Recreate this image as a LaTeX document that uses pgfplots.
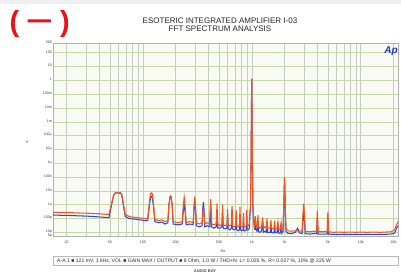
\documentclass[border=0pt]{standalone}
\usepackage{pgfplots}
\pgfplotsset{compat=1.18}
\usepackage{fontspec}
\setmainfont{Liberation Sans}
\definecolor{tr1}{RGB}{242,86,30}
\definecolor{tr2}{RGB}{48,72,210}
\definecolor{hgrid}{RGB}{196,218,165}
\definecolor{vgrid}{RGB}{200,203,196}
\definecolor{plotbg}{RGB}{248,250,243}
\definecolor{aplogo}{RGB}{30,60,190}
\definecolor{redsign}{RGB}{232,20,28}
\begin{document}
\begin{tikzpicture}[x=1pt,y=1pt]
\useasboundingbox (0,0) rectangle (401,272);
\fill[white] (0,0) rectangle (401,272);
\fill[gray!12] (0,268) rectangle (401,272);
\begin{axis}[
  at={(53pt,35.5pt)}, anchor=south west,
  scale only axis, width=345pt, height=193.5pt,
  xmode=log, ymode=log,
  xmin=15, xmax=22000, ymin=5e-12, ymax=500,
  axis background/.style={fill=plotbg},
  axis line style={gray!60, line width=0.4pt},
  xtick={20,50,100,200,500,1000,2000,5000,10000,20000},
  xticklabels={20,50,100,200,500,1k,2k,5k,10k,20k},
  minor xtick={30,40,60,70,80,90,300,400,600,700,800,900,3000,4000,6000,7000,8000,9000},
  ytick={5e-12,1e-11,1e-10,1e-9,1e-8,1e-7,1e-6,1e-5,1e-4,1e-3,1e-2,1e-1,1,10,100,500},
  yticklabels={5p,10p,100p,1n,10n,100n,1µ,10µ,100µ,1m,10m,100m,1,10,100,500},
  xmajorgrids, xminorgrids, ymajorgrids,
  x grid style={vgrid, line width=0.4pt},
  minor x grid style={vgrid, line width=0.4pt},
  y grid style={hgrid, line width=0.5pt},
  major tick length=0pt, minor tick length=0pt,
  tick label style={font=\fontsize{3.6}{3.8}\selectfont, text=black!75, inner sep=1pt},
  xticklabel style={yshift=-3pt},
  yticklabel style={yshift=0.8pt},
  clip=true,
]
\addplot[tr2, line width=1.05pt] coordinates {
(15,1.8e-10)(18,1.7e-10)(22,1.65e-10)(26,1.55e-10)(30,1.5e-10)(35,1.4e-10)(40,1.3e-10)(45,1.2e-10)(49,1.15e-10)
(52,1.2e-9)(54,4.5e-9)(56,7e-9)(58,7.5e-9)(60,6.5e-9)(62,7.2e-9)(64,5.5e-9)(66,1.2e-9)(69,1.4e-10)
(75,1e-10)(85,9e-11)(95,8e-11)(105,7e-11)(111,7e-11)
(115,1e-9)(118,3.5e-9)(120,4e-9)(122,3.5e-9)(125,1e-9)(129,6e-11)
(140,5e-11)(150,5.5e-11)(160,4e-11)(170,5e-11)
(174,1e-9)(178,3.8e-9)(180,4.2e-9)(182,3.8e-9)(186,1e-9)(190,4e-11)
(210,3.5e-11)(230,4e-11)(235,3e-10)(240,1e-9)(245,3e-10)(250,3.5e-11)
(270,4e-11)(290,3.5e-11)(295,4e-10)(300,1.5e-9)(305,4e-10)(310,3e-11)
(330,2.5e-11)(350,3e-11)(355,5e-10)(360,1.5e-9)(365,5e-10)(370,2.5e-11)
(390,3e-11)(412,2.5e-11)(420,5e-10)(428,2.5e-11)
(450,2e-11)(472,2.5e-11)(480,3e-10)(488,2e-11)
(510,2e-11)(532,2.5e-11)(540,3e-10)(548,2e-11)
(570,1.8e-11)(592,2e-11)(600,2e-10)(608,1.8e-11)
(630,1.5e-11)(652,2e-11)(660,5e-10)(668,1.8e-11)
(690,1.5e-11)(712,1.8e-11)(720,1.5e-10)(728,1.5e-11)
(750,1.3e-11)(772,1.5e-11)(780,2e-10)(788,1.5e-11)
(810,1.3e-11)(832,1.5e-11)(840,1.5e-10)(848,1.3e-11)
(870,1.3e-11)(892,1.5e-11)(900,1.5e-10)(908,1.5e-11)
(930,1.5e-11)(950,2e-11)(960,1e-10)(975,8e-10)(985,9e-7)(994,9e-3)(1000,1.2)(1006,9e-3)(1015,9e-7)(1025,8e-10)(1040,8e-11)
(1060,1.5e-11)(1080,8e-11)(1095,1.5e-11)(1120,1.2e-11)(1140,6e-11)(1155,1.2e-11)
(1190,1e-11)(1230,1.2e-11)(1260,6e-11)(1280,1e-11)(1320,1.2e-11)(1360,1e-11)(1380,5e-11)(1400,1e-11)
(1450,1e-11)(1480,1e-11)(1500,4e-11)(1520,1e-11)(1570,9e-12)(1600,1e-11)(1620,4e-11)(1640,9e-12)
(1700,9e-12)(1740,3e-11)(1760,9e-12)(1820,8.5e-12)(1860,3e-11)(1890,8.5e-12)
(1940,1.2e-11)(1970,8e-10)(1990,2.5e-8)(2000,8e-8)(2010,2.5e-8)(2030,8e-10)(2060,1.2e-11)
(2150,8.5e-12)(2300,8e-12)(2500,1e-11)(2640,2e-11)(2750,9e-12)(2900,8e-12)
(2960,1e-10)(3000,4e-10)(3040,1e-10)(3100,8e-12)(3400,7.5e-12)(3700,8e-12)
(3940,8e-12)(3970,3e-11)(4000,1e-10)(4030,3e-11)(4070,7.5e-12)(4500,7.5e-12)
(4930,7.5e-12)(4965,3e-11)(5000,8e-11)(5035,3e-11)(5080,7.5e-12)
(5600,7e-12)(6300,7.2e-12)(7000,7e-12)(8000,7.2e-12)(9000,7e-12)(10000,7.2e-12)
(11500,7e-12)(13000,7.2e-12)(15000,7e-12)(17000,7.2e-12)(19000,7.5e-12)(20500,9e-12)(21300,2e-11)(22000,3e-11)
};
\addplot[tr1, line width=1.05pt] coordinates {
(15,2.8e-10)(18,2.7e-10)(22,2.65e-10)(26,2.5e-10)(30,2.45e-10)(35,2.3e-10)(40,2.2e-10)(45,2.05e-10)(49,2.0e-10)
(52,1.5e-9)(54,5e-9)(56,7.5e-9)(58,7.8e-9)(60,6.8e-9)(62,7.6e-9)(64,6e-9)(66,1.5e-9)(69,2e-10)
(75,1.4e-10)(85,1.2e-10)(95,1.1e-10)(105,1e-10)(111,1e-10)
(115,1.5e-9)(118,6.5e-9)(120,7.2e-9)(122,6.5e-9)(125,1.5e-9)(129,9e-11)
(140,7e-11)(150,8e-11)(160,6e-11)(170,7e-11)
(174,1e-9)(178,3.8e-9)(180,4e-9)(182,3.8e-9)(186,1e-9)(190,6e-11)
(210,5e-11)(230,6e-11)(235,8e-10)(240,3.5e-9)(245,8e-10)(250,5e-11)
(270,6e-11)(290,5e-11)(295,8e-10)(300,3.8e-9)(305,8e-10)(310,5e-11)
(330,4e-11)(350,5e-11)(355,2e-10)(360,6e-10)(365,2e-10)(370,4e-11)
(390,5e-11)(410,4e-11)(415,5e-10)(420,2.5e-9)(425,5e-10)(430,4e-11)
(450,3.5e-11)(472,4e-11)(480,1.2e-9)(488,4e-11)
(510,3e-11)(532,4e-11)(540,1e-9)(548,3.5e-11)
(570,3e-11)(592,3.5e-11)(600,5e-10)(608,3e-11)
(630,3e-11)(652,3.5e-11)(660,8e-10)(668,3e-11)
(690,2.5e-11)(712,3e-11)(720,4e-10)(728,3e-11)
(750,2.5e-11)(772,3e-11)(780,7e-10)(788,3e-11)
(810,2.5e-11)(832,3e-11)(840,2.5e-10)(848,2.5e-11)
(870,2.5e-11)(892,3e-11)(900,4e-10)(908,3e-11)
(930,3e-11)(950,4e-11)(960,2e-10)(975,1e-9)(985,1e-6)(994,1e-2)(1000,1.3)(1006,1e-2)(1015,1e-6)(1025,1e-9)(1040,1e-10)
(1060,3e-11)(1080,1.5e-10)(1095,3e-11)(1120,2.5e-11)(1140,1.8e-10)(1155,2.5e-11)
(1190,2e-11)(1230,2.5e-11)(1260,1.2e-10)(1280,2e-11)(1320,2.5e-11)(1360,2e-11)(1380,1e-10)(1400,2e-11)
(1450,2e-11)(1480,2e-11)(1500,8e-11)(1520,2e-11)(1570,1.8e-11)(1600,2e-11)(1620,7e-11)(1640,1.8e-11)
(1700,1.8e-11)(1740,6e-11)(1760,1.6e-11)(1820,1.5e-11)(1860,5e-11)(1890,1.5e-11)
(1940,2e-11)(1970,1e-9)(1990,3e-8)(2000,1e-7)(2010,3e-8)(2030,1e-9)(2060,2e-11)
(2150,1.3e-11)(2300,1.2e-11)(2500,1.3e-11)(2700,1.2e-11)(2900,1.3e-11)
(2960,3e-10)(3000,1.2e-9)(3040,3e-10)(3100,1.2e-11)(3400,1.1e-11)(3700,1.2e-11)
(3940,1.2e-11)(3970,1e-10)(4000,3.5e-10)(4030,1e-10)(4070,1.1e-11)(4500,1.1e-11)
(4930,1.1e-11)(4965,1e-10)(5000,3e-10)(5035,1e-10)(5080,1.1e-11)
(5600,1e-11)(6300,1.05e-11)(7000,1e-11)(8000,1.05e-11)(9000,1e-11)(10000,1.05e-11)
(11500,1e-11)(13000,1.05e-11)(15000,1e-11)(17000,1.05e-11)(19000,1.1e-11)(20500,1.5e-11)(21300,3.5e-11)(22000,6e-11)
};
\end{axis}
% title
\node[font=\fontsize{8}{8}\selectfont, text=black!85] at (220,251.3) {ESOTERIC INTEGRATED AMPLIFIER I-03};
\node[font=\fontsize{8}{8}\selectfont, text=black!85] at (220,243.7) {FFT SPECTRUM ANALYSIS};
% red sign
\node[font=\fontsize{29}{29}\selectfont\bfseries, text=redsign, inner sep=0] at (14.5,248) {(};
\node[font=\fontsize{29}{29}\selectfont\bfseries, text=redsign, inner sep=0] at (39.5,246.5) {\scalebox{1.6}[0.95]{−}};
\node[font=\fontsize{29}{29}\selectfont\bfseries, text=redsign, inner sep=0] at (65,248) {)};
% Ap logo
\node[font=\fontsize{10}{10}\selectfont\bfseries\itshape, text=aplogo, inner sep=0] at (391,221) {Ap};
% axis labels
\node[font=\fontsize{4}{4}\selectfont, text=black!75] at (27,130) {V};
\node[font=\fontsize{3.8}{4}\selectfont, text=black!75] at (223,21.3) {Hz};
% bottom box
\draw[gray!55, fill=gray!4, line width=0.5pt] (53,6.3) rectangle (398,15.3);
\node[font=\fontsize{5.1}{5.5}\selectfont, text=black!80, anchor=west, inner sep=0] at (57,10.8) {A-A 1 ■ 121 mV, 1 kHz, VOL ■ GAIN MAX / OUTPUT ■ 8 Ohm, 1.0 W / THD+N: L= 0.025 \%, R= 0.027 \%, 10\% @ 225 W};
\node[font=\fontsize{4}{4}\selectfont\bfseries, text=black!70, inner sep=0] at (205,1) {AUDIO BAY};
\end{tikzpicture}
\end{document}
